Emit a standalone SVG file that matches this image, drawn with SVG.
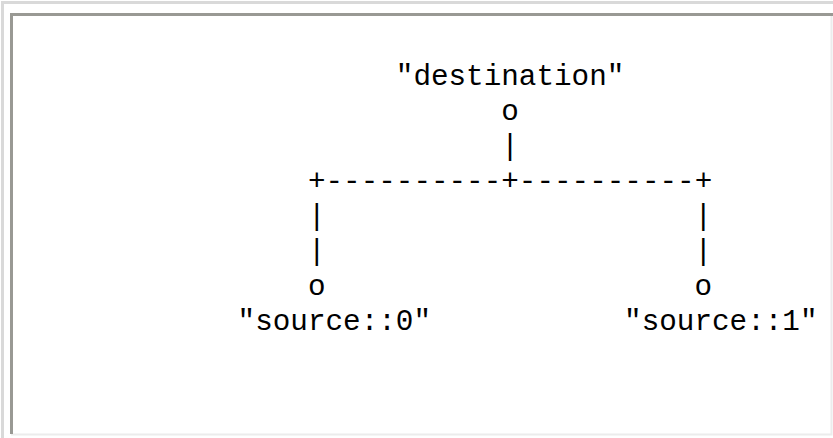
<svg xmlns="http://www.w3.org/2000/svg" width="833" height="438" viewBox="0 0 833 438">
  <style>
    .t { font-family: "Liberation Mono", "DejaVu Sans Mono", monospace; font-size: 29.3px; fill: #000; }
  </style>
  <rect x="0" y="0" width="833" height="438" fill="#fff"/>
  <!-- page frame -->
  <path d="M2.5,438 V2.5 H833" fill="none" stroke="#d9d9d9" stroke-width="3"/>
  <!-- inset panel -->
  <rect x="10" y="13" width="823" height="423" fill="#fff"/>
  <path d="M11,434.5 H831.5 V14" fill="none" stroke="#ececec" stroke-width="2"/>
  <path d="M11.5,434 V14.5 H833" fill="none" stroke="#999994" stroke-width="3"/>

  <!-- tree nodes -->
  <g id="destination">
    <text class="t" x="395.8" y="85">"destination"</text>
    <text class="t" x="501.2" y="120">o</text>
  </g>
  <g id="source0">
    <text class="t" x="307.9" y="295">o</text>
    <text class="t" x="237.6" y="330">"source::0"</text>
  </g>
  <g id="source1">
    <text class="t" x="694.4" y="295">o</text>
    <text class="t" x="624.1" y="330">"source::1"</text>
  </g>

  <!-- branches -->
  <g id="connectors">
    <text class="t" x="501.2" y="155">|</text>
    <text class="t" x="307.9" y="190">+----------+----------+</text>
    <text class="t" x="307.9" y="225">|</text>
    <text class="t" x="694.4" y="225">|</text>
    <text class="t" x="307.9" y="260">|</text>
    <text class="t" x="694.4" y="260">|</text>
  </g>
</svg>
